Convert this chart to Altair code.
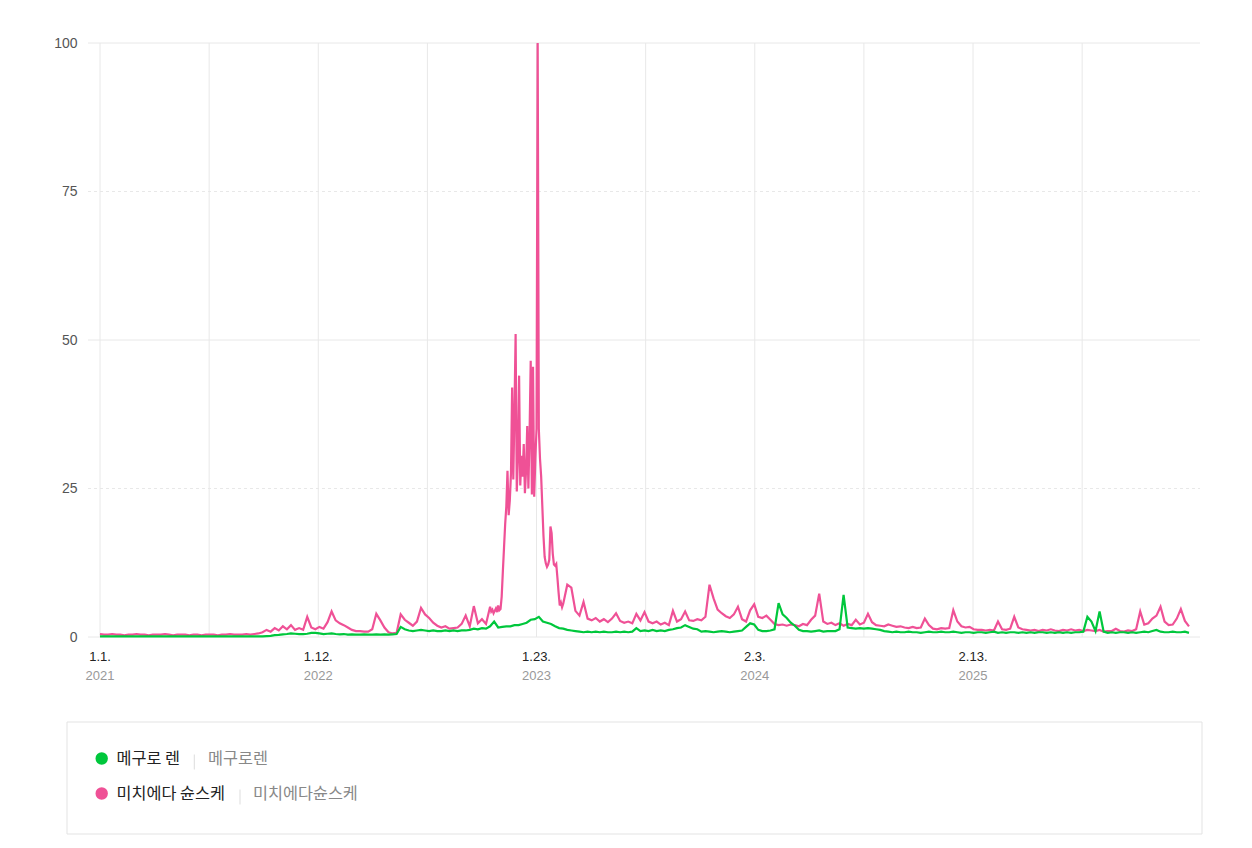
import altair as alt
import pandas as pd

# ---------------- data ----------------
START = "2021-01-01"
SERIES = ["메구로 렌", "미치에다 슌스케"]
ALIASES = ["메구로렌", "미치에다슌스케"]
COLORS = ["#00c73c", "#ef5196"]
Y_TICKS = [0, 25, 50, 75, 100]

# green: weekly from 2021-01-01
GREEN = [
    0.1, 0.1, 0.1, 0.1, 0.1, 0.1, 0.1, 0.1, 0.1, 0.1,
    0.1, 0.1, 0.1, 0.1, 0.1, 0.1, 0.1, 0.1, 0.1, 0.1,
    0.1, 0.1, 0.1, 0.1, 0.1, 0.1, 0.1, 0.1, 0.1, 0.1,
    0.1, 0.1, 0.1, 0.1, 0.1, 0.1, 0.1, 0.1, 0.1, 0.1,
    0.1,
    0.15, 0.2, 0.3, 0.35, 0.45, 0.5, 0.6, 0.55, 0.5,
    0.5, 0.55, 0.7, 0.7, 0.6, 0.5, 0.55, 0.6, 0.5, 0.45, 0.5, 0.4, 0.45, 0.4,
    0.4, 0.45, 0.4, 0.4, 0.45, 0.4, 0.45, 0.4, 0.45,
    0.5,
    1.7, 1.3, 1.1, 1.0, 1.1, 1.2, 1.1, 1.0, 1.1, 1.0, 1.0, 1.1, 1.0, 1.1, 1.0,
    1.1, 1.1, 1.2, 1.4, 1.3, 1.5, 1.4,
    1.8, 2.6, 1.6, 1.7, 1.8, 1.8, 2.0, 2.0, 2.2, 2.4, 2.9, 3.0, 3.4, 2.6, 2.4,
    2.2, 1.8, 1.5, 1.4, 1.2, 1.1, 1.0, 0.9, 0.8,
    0.9, 0.8, 0.9, 0.8, 0.9, 0.8, 0.8, 0.9, 0.8, 0.9, 0.8, 0.9,
    1.5,
    1.0, 1.1, 1.0, 1.2, 1.0, 1.1, 1.0, 1.2,
    1.3, 1.5, 1.6, 2.0, 1.7, 1.4, 1.3,
    0.9, 1.0, 0.9, 0.8, 0.9, 1.0, 0.9, 0.8, 0.9, 1.0, 1.1,
    1.7,
    2.3, 2.1,
    1.2, 1.0, 1.0, 1.1, 1.3,
    5.7, 3.8, 3.2, 2.4, 1.9,
    1.2, 1.0, 1.0, 0.9, 1.0, 1.1, 0.9, 1.0, 1.0, 1.0, 1.3,
    7.1,
    1.6,
    1.5, 1.4, 1.5, 1.4, 1.5, 1.4, 1.3, 1.2, 1.0, 0.9,
    0.8, 0.9, 0.8, 0.8, 0.9, 0.8, 0.8, 0.7, 0.8, 0.9,
    0.8, 0.8, 0.9, 0.8, 0.8, 0.9, 0.8, 0.7, 0.8, 0.8,
    0.7, 0.8, 0.8, 0.7, 0.8, 0.9, 0.7, 0.8, 0.7, 0.8,
    0.8, 0.7, 0.8, 0.7, 0.8, 0.7, 0.8, 0.8, 0.7, 0.8,
    0.7, 0.8, 0.7, 0.8, 0.7, 0.8, 0.8, 0.9,
    3.4, 2.6, 1.0, 4.3, 0.9,
    0.7, 0.8, 0.7, 0.8, 0.8, 0.7, 0.8, 0.7, 0.8, 0.9, 0.8, 1.0, 1.2, 0.9, 0.8,
    0.8, 0.9, 0.8, 0.8, 0.9, 0.7,
]

# pink, part A: weekly from 2021-01-01
PINK_A = [
    0.5, 0.4, 0.4, 0.5, 0.4, 0.4, 0.3, 0.4, 0.4, 0.5,
    0.4, 0.4, 0.3, 0.4, 0.4, 0.4, 0.5, 0.4, 0.3, 0.4,
    0.4, 0.4, 0.3, 0.4, 0.4, 0.3, 0.4, 0.4, 0.4, 0.3,
    0.4, 0.4, 0.5, 0.4, 0.4, 0.4, 0.5, 0.4, 0.5, 0.6,
    0.8, 1.2, 0.9, 1.5, 1.1, 1.8, 1.3, 2.0, 1.2, 1.5,
    1.2, 3.4, 1.6, 1.3, 1.7, 1.4, 2.5, 4.3, 2.8, 2.3,
    2.0, 1.6, 1.2, 1.0, 1.0, 0.9, 0.9, 1.3, 3.9, 2.8,
    1.6, 0.8, 0.6, 0.7, 3.8, 2.9, 2.4, 1.9, 2.6, 4.9,
    3.8, 3.2, 2.4, 1.9, 1.6, 1.8, 1.4, 1.5, 1.6, 2.2,
    3.6, 1.8, 5.2, 2.3, 3.0, 2.2,
]
PINK_B_START = "2022-11-04"   # every 2 days
PINK_B = [
    5.1, 4.3, 4.6, 4.0, 4.4, 4.8, 4.2, 5.3, 4.5, 4.7,
    6.8, 11.0, 15.0, 19.0, 22.0, 28.0, 20.5, 23.0, 27.5, 42.0,
    26.5, 38.0, 51.0, 24.5, 30.0, 44.0, 25.5, 30.5, 27.0, 32.5,
    24.2, 28.0, 35.5, 25.0, 34.0, 46.5, 24.0, 45.5, 23.6, 30.0,
    35.0, 100.0, 35.0, 30.0, 27.0, 22.0, 17.0, 13.5, 12.4, 11.8,
    12.2, 13.0, 18.6, 17.5, 14.0, 12.2, 12.0, 12.3, 10.0, 7.5,
    5.3, 5.8, 5.0, 5.6,
]
PINK_C_START = "2023-03-17"   # weekly
PINK_C = [
    8.8, 8.3, 4.4, 3.6, 5.9, 3.1, 2.8, 3.2, 2.6, 3.0,
    2.5, 3.1, 4.0, 2.7, 2.4, 2.6, 2.3, 3.9, 2.8, 4.2,
    2.6, 2.3, 2.6, 2.1, 2.4, 2.0, 4.4, 2.6, 3.0, 4.3,
    2.8, 2.7, 3.0, 2.8, 3.4, 8.8, 6.5, 4.6, 4.0, 3.5,
    3.2, 3.8, 5.1, 3.0, 2.6, 4.5, 5.5, 3.4, 3.2, 3.6,
    2.9, 2.2, 2.0, 2.1, 1.9, 2.1, 2.0, 1.8, 2.2, 2.0,
    2.9, 3.6, 7.3, 2.6, 2.2, 2.4, 2.0, 2.3, 1.9, 2.2,
    2.0, 2.9, 2.1, 2.4, 3.9, 2.5, 2.0, 1.9, 1.8, 2.1,
    1.9, 1.7, 1.8, 1.6, 1.5, 1.7, 1.5, 1.6, 3.1, 2.0,
    1.4, 1.3, 1.5, 1.4, 1.5, 4.5, 2.6, 1.8, 1.6, 1.7,
    1.3, 1.2, 1.2, 1.1, 1.2, 1.1, 2.6, 1.3, 1.2, 1.4,
    3.4, 1.6, 1.3, 1.2, 1.1, 1.2, 1.0, 1.2, 1.1, 1.3,
    1.1, 1.0, 1.2, 1.1, 1.3, 1.1, 1.2, 1.0, 1.2, 1.1,
    1.0, 1.2, 0.9, 1.0, 1.0, 1.4, 1.0, 0.9, 1.1, 1.0,
    1.3, 4.3, 2.1, 2.3, 3.1, 3.6, 5.1, 2.6, 2.0, 2.1,
    3.1, 4.7, 2.7, 1.8,
]

# ---------------- tables ----------------
def fmt(d):
    return d.strftime("%Y-%m-%d")

green_df = pd.DataFrame({
    "date": [fmt(d) for d in pd.date_range(START, periods=len(GREEN), freq="7D")],
    "value": GREEN,
})
pink_dates = (
    [fmt(d) for d in pd.date_range(START, periods=len(PINK_A), freq="7D")]
    + [fmt(d) for d in pd.date_range(PINK_B_START, periods=len(PINK_B), freq="2D")]
    + [fmt(d) for d in pd.date_range(PINK_C_START, periods=len(PINK_C), freq="7D")]
)
pink_df = pd.DataFrame({"date": pink_dates, "value": PINK_A + PINK_B + PINK_C})

tick_dates = pd.date_range(START, periods=10, freq="188D")
ticks_df = pd.DataFrame({
    "date": [fmt(d) for d in tick_dates],
    "md": [f"{d.month}.{d.day}." for d in tick_dates],
    "yr": [str(d.year) for d in tick_dates],
})
label_df = ticks_df.iloc[::2].reset_index(drop=True)

# ---------------- layout / style ----------------
W, H = 1100, 594
FONT_NUM = "Liberation Sans"
FONT_KR = "Noto Sans CJK KR"
GRID = "#e8e8e8"

X_SCALE = alt.Scale(domain=[alt.DateTime(year=2021, month=1, date=1, utc=True),
                            alt.DateTime(year=2026, month=3, date=11, utc=True)])
Y_SCALE = alt.Scale(domain=[0, 100], nice=False, zero=True)
Y_AXIS = alt.Axis(values=Y_TICKS, grid=False, domain=False, ticks=False,
                  labelPadding=23, labelFontSize=14, labelColor="#555555",
                  labelFont=FONT_NUM, title=None)

x_enc = alt.X("date:T", scale=X_SCALE, axis=None)

hgrid = alt.Chart(pd.DataFrame({"v": Y_TICKS})).mark_rule(color=GRID, strokeWidth=1).encode(
    y=alt.Y("v:Q", scale=Y_SCALE, axis=Y_AXIS),
    x=alt.value(-12), x2=alt.value(W),
    strokeDash=alt.condition("datum.v % 50 != 0", alt.value([3, 3]), alt.value([1, 0])),
)

vgrid = alt.Chart(ticks_df).mark_rule(color=GRID, strokeWidth=1).encode(
    x=x_enc, y=alt.value(0), y2=alt.value(H),
)

pink_line = alt.Chart(pink_df).mark_line(color=COLORS[1], strokeWidth=2.2).encode(
    x=x_enc, y=alt.Y("value:Q", scale=Y_SCALE, axis=Y_AXIS),
)
green_line = alt.Chart(green_df).mark_line(color=COLORS[0], strokeWidth=2.2).encode(
    x=x_enc, y=alt.Y("value:Q", scale=Y_SCALE, axis=Y_AXIS),
)

md_text = alt.Chart(label_df).mark_text(
    font=FONT_NUM, fontSize=13, color="#222222", baseline="middle", align="center"
).encode(x=x_enc, y=alt.value(H + 20), text="md:N")
yr_text = alt.Chart(label_df).mark_text(
    font=FONT_NUM, fontSize=13, color="#999999", baseline="middle", align="center"
).encode(x=x_enc, y=alt.value(H + 39), text="yr:N")

# legend box
legend_box = alt.Chart(pd.DataFrame({"k": [0]})).mark_rect(
    fill="white", stroke="#e3e3e3", strokeWidth=1
).encode(x=alt.value(-33), x2=alt.value(1102), y=alt.value(679), y2=alt.value(791))

legend_layers = [legend_box]
ROW_Y = [715.5, 750.5]
TEXT_X = 16.5
SEP_X = [94.3, 140.0]
ALIAS_X = [108.0, 153.0]
for idx, (name, alias, col) in enumerate(zip(SERIES, ALIASES, COLORS)):
    row = pd.DataFrame({"name": [name], "alias": [alias]})
    ry = ROW_Y[idx]
    legend_layers.append(
        alt.Chart(row).mark_circle(size=154, opacity=1, color=col).encode(
            x=alt.value(1.7), y=alt.value(ry))
    )
    legend_layers.append(
        alt.Chart(row).mark_text(font=FONT_KR, fontSize=16.3, color="#222222",
                                 align="left", baseline="middle").encode(
            x=alt.value(TEXT_X), y=alt.value(ry), text="name:N")
    )
    legend_layers.append(
        alt.Chart(row).mark_rule(color="#dddddd", strokeWidth=1).encode(
            x=alt.value(SEP_X[idx]), y=alt.value(ry - 4), y2=alt.value(ry + 11))
    )
    legend_layers.append(
        alt.Chart(row).mark_text(font=FONT_KR, fontSize=16.3, color="#888888",
                                 align="left", baseline="middle").encode(
            x=alt.value(ALIAS_X[idx]), y=alt.value(ry), text="alias:N")
    )

chart = alt.layer(
    hgrid, vgrid, pink_line, green_line, md_text, yr_text, *legend_layers
).properties(
    width=W, height=H,
    autosize=alt.AutoSizeParams(type="none"),
    padding={"left": 92, "top": 35, "right": 44, "bottom": 200},
).configure_view(stroke=None)

chart.save("out.html", embed_options={"renderer": "svg", "actions": False})
